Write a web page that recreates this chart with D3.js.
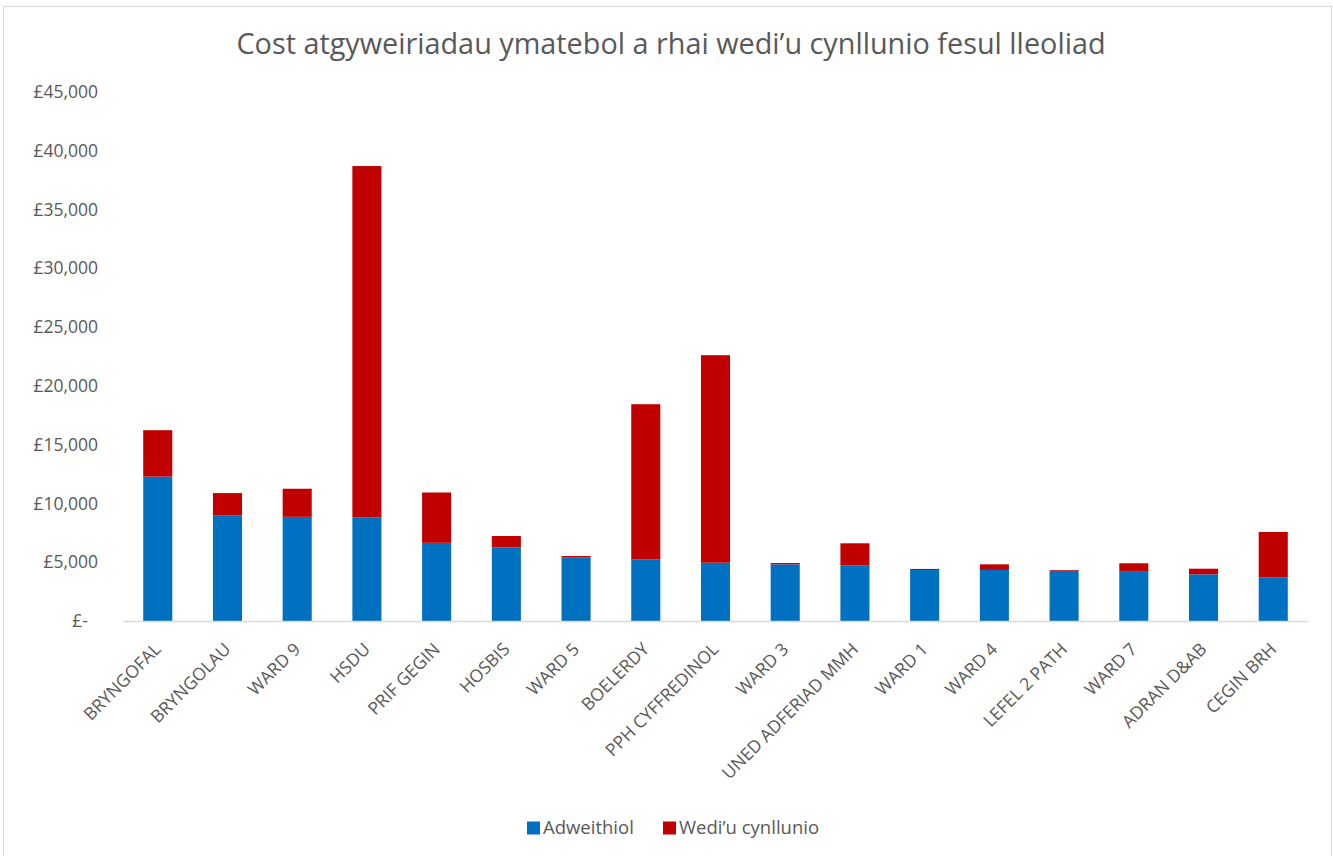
<!DOCTYPE html>
<html>
<head>
<meta charset="utf-8">
<script src="https://cdn.jsdelivr.net/npm/d3@7"></script>
<style>
  body { margin: 0; background: #fff; }
  text { font-family: "Open Sans", sans-serif; fill: #595959; }
</style>
</head>
<body>
<svg id="chart" width="1333" height="856"></svg>
<script>
// locations (x categories)
var locations = ["BRYNGOFAL", "BRYNGOLAU", "WARD 9", "HSDU", "PRIF GEGIN", "HOSBIS", "WARD 5",
  "BOELERDY", "PPH CYFFREDINOL", "WARD 3", "UNED ADFERIAD MMH", "WARD 1", "WARD 4",
  "LEFEL 2 PATH", "WARD 7", "ADRAN D&AB", "CEGIN BRH"];

// reactive repairs (blue)
var reactive = [12280, 9000, 8860, 8800, 6650, 6270, 5420, 5250, 4960, 4820, 4740,
  4340, 4340, 4280, 4190, 3970, 3720];

// planned repairs (red)
var planned = [3950, 1880, 2390, 29900, 4280, 960, 110, 13190, 17650, 110, 1870,
  90, 480, 60, 720, 480, 3850];

var seriesNames = ["Adweithiol", "Wedi\u2019u cynllunio"];
var seriesColors = ["#0070C0", "#C00000"];
var yTicks = [0, 5000, 10000, 15000, 20000, 25000, 30000, 35000, 40000, 45000];

var svg = d3.select("#chart"),
	width = 1333,
	height = 856,
	margin = { left: 123, right: 25, top: 92, bottom: 235 };

// chart border
svg.append("rect")
	.attr("x", 3.5).attr("y", 6.5)
	.attr("width", 1328).attr("height", 860)
	.attr("fill", "#fff")
	.attr("stroke", "#d9d9d9");

svg.append("text")
	.attr("x", 671).attr("y", 54)
	.attr("text-anchor", "middle")
	.style("font-size", "28.8px")
	.text("Cost atgyweiriadau ymatebol a rhai wedi\u2019u cynllunio fesul lleoliad");

var rows = locations.map(function (d, i) {
	return { name: d, reactive: reactive[i], planned: planned[i] };
});

var stack = d3.stack().keys(["reactive", "planned"]);
var layers = stack(rows);

var x = d3.scaleBand()
	.domain(locations)
	.range([margin.left, width - margin.right])
	.paddingInner(0.583)
	.paddingOuter(0.29);

var y = d3.scaleLinear()
	.domain([0, 45000])
	.range([height - margin.bottom, margin.top]);

// bars
svg.append("g")
	.selectAll("g")
	.data(layers)
	.join("g")
	.attr("fill", function (d, i) { return seriesColors[i]; })
	.selectAll("rect")
	.data(function (d) { return d; })
	.join("rect")
	.attr("x", function (d) { return x(d.data.name); })
	.attr("y", function (d) { return y(d[1]); })
	.attr("height", function (d) { return y(d[0]) - y(d[1]); })
	.attr("width", x.bandwidth());

// y axis
var fmt = d3.format(",");
var yAxis = svg.append("g")
	.attr("transform", "translate(" + margin.left + ",0)")
	.call(d3.axisLeft(y).tickValues(yTicks).tickSize(0).tickPadding(25)
		.tickFormat(function (d) { return d == 0 ? "£-" : "£" + fmt(d); }));
yAxis.select(".domain").remove();
yAxis.selectAll("text")
	.attr("fill", null)
	.style("font-size", "17.5px")
	.attr("dx", function (d) { return d == 0 ? -10 : 0; });

// x axis baseline
svg.append("line")
	.attr("x1", margin.left).attr("x2", width - margin.right)
	.attr("y1", y(0) + 0.5).attr("y2", y(0) + 0.5)
	.attr("stroke", "#d9d9d9").attr("stroke-width", 1.5);

// x labels rotated
svg.append("g")
	.selectAll("text")
	.data(locations)
	.join("text")
	.attr("transform", function (d) {
		return "translate(" + (x(d) + x.bandwidth() / 2) + "," + (y(0) + 25) + ") rotate(-45)";
	})
	.attr("text-anchor", "end")
	.attr("dy", "0.35em")
	.style("font-size", "17.5px")
	.text(function (d) { return d; });

// legend
var legend = svg.append("g").attr("transform", "translate(527,828)");
var lx = [0, 136];
seriesNames.forEach(function (name, i) {
	var g = legend.append("g").attr("transform", "translate(" + lx[i] + ",0)");
	g.append("rect")
		.attr("x", 0).attr("y", -6.5)
		.attr("width", 13).attr("height", 13)
		.attr("fill", seriesColors[i]);
	g.append("text")
		.attr("x", 16).attr("dy", "0.35em")
		.style("font-size", "18.5px")
		.text(name);
});
</script>
</body>
</html>
